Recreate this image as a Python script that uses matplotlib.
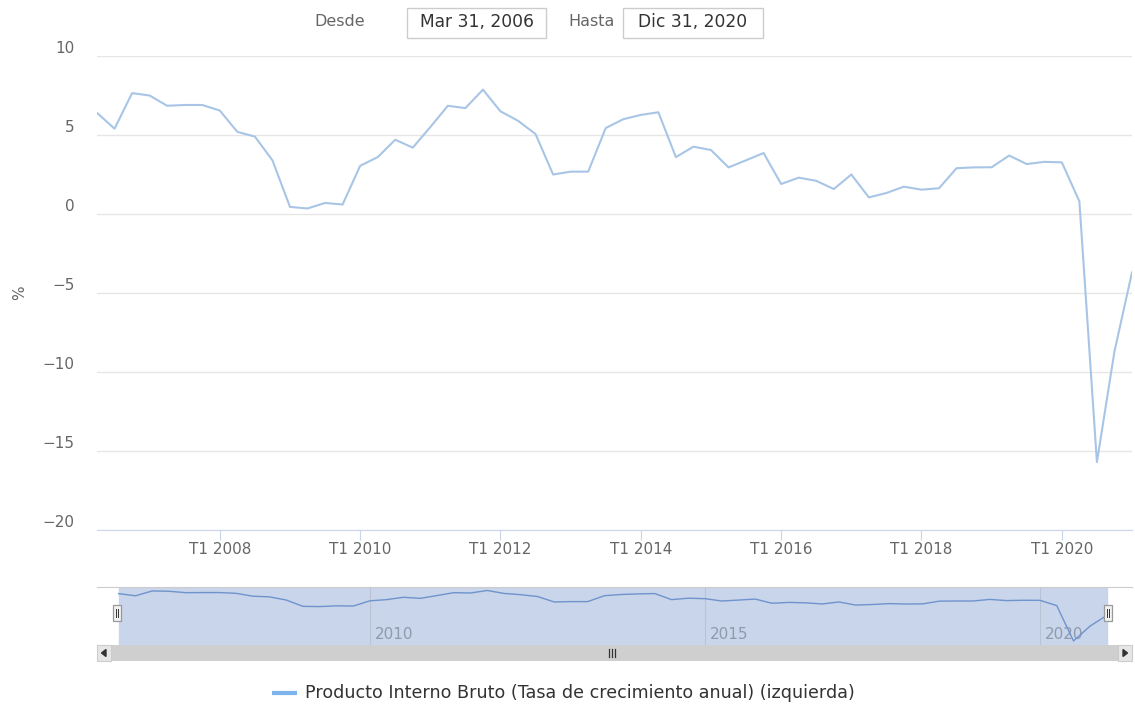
import matplotlib
matplotlib.use("Agg")
import matplotlib.pyplot as plt
from matplotlib.patches import Rectangle, Polygon
import numpy as np

# ---------------- data ----------------
start_year = 2006
gdp_growth = [6.4, 5.4, 7.65, 7.5, 6.85, 6.9, 6.9, 6.55, 5.2, 4.9,
              3.4, 0.45, 0.35, 0.7, 0.6, 3.05, 3.6, 4.7, 4.2, 5.5,
              6.85, 6.7, 7.87, 6.5, 5.9, 5.06, 2.5, 2.68, 2.68, 5.44,
              6.0, 6.27, 6.44, 3.6, 4.26, 4.05, 2.95, 3.4, 3.86, 1.9,
              2.3, 2.1, 1.58, 2.5, 1.05, 1.33, 1.73, 1.54, 1.63, 2.9,
              2.95, 2.96, 3.7, 3.16, 3.3, 3.27, 0.8, -15.7, -8.7, -3.7]
tick_years = [2008, 2010, 2012, 2014, 2016, 2018, 2020]
tick_labels = [f"T1 {y}" for y in tick_years]
y_ticks = [10, 5, 0, -5, -10, -15, -20]
nav_years = [2010, 2015, 2020]
series_name = "Producto Interno Bruto (Tasa de crecimiento anual) (izquierda)"
date_from = "Mar 31, 2006"
date_to = "Dic 31, 2020"

# quarter-end positions in decimal years
x = np.array([start_year + 0.25 * (i + 1) for i in range(len(gdp_growth))])

W, H = 1135, 704
fig = plt.figure(figsize=(W / 100, H / 100), dpi=100)
fig.patch.set_facecolor("white")


def px(x0, y0, x1, y1):
    return [x0 / W, 1 - y1 / H, (x1 - x0) / W, (y1 - y0) / H]


# ---------------- main chart ----------------
ax = fig.add_axes(px(97, 56, 1132, 530))
ax.plot(x, gdp_growth, color="#a9c5e6", lw=1.5, solid_joinstyle="round")
ax.set_xlim(x[0], x[-1])
ax.set_ylim(min(y_ticks), max(y_ticks))
ax.set_yticks(y_ticks)
ax.set_yticklabels([str(v).replace("-", "\u2212") for v in y_ticks])
ax.grid(axis="y", color="#e6e6e6", lw=1)
ax.set_axisbelow(True)
for s in ["top", "right", "left"]:
    ax.spines[s].set_visible(False)
ax.spines["bottom"].set_color("#ccd6eb")
ax.set_xticks(tick_years)
ax.set_xticklabels(tick_labels)
ax.tick_params(axis="x", length=7, color="#ccd6eb", labelcolor="#666666",
               labelsize=11, pad=2)
ax.tick_params(axis="y", length=0, pad=16, labelcolor="#666666", labelsize=11)
plt.setp(ax.get_yticklabels(), va="bottom")
fig.text(20 / W, 1 - 293 / H, "%", rotation=90, ha="center", va="center",
         color="#666666", fontsize=11)

# ---------------- navigator ----------------
nav = fig.add_axes(px(97, 587, 1132, 645))
pxy = (1107 - 118.75) / (x[-1] - x[0])
nav.set_xlim(x[0] - (118.75 - 97) / pxy, x[-1] + (1132 - 1107) / pxy)
nav.set_ylim(-17.6, 9.5)
nav.axvspan(x[0], x[-1], color="#c9d5eb", zorder=0)
for yv in nav_years:
    nav.axvline(yv, color="#b9c3d3", lw=0.8, zorder=1)
    nav.text(yv + 5 / pxy, -12.6, str(yv), color="#8f9aac", fontsize=11,
             ha="left", va="center", zorder=2)
nav.plot(x, gdp_growth, color="#6f93cc", lw=1.0, zorder=3)
nav.set_xticks([])
nav.set_yticks([])
for s in ["right", "left", "bottom"]:
    nav.spines[s].set_visible(False)
nav.spines["top"].set_color("#cccccc")

# ---------------- scrollbar ----------------
sb = fig.add_axes(px(97, 645, 1132, 661))
sb.set_xlim(0, 1)
sb.set_ylim(0, 1)
sb.set_facecolor("#cfcfcf")
sb.set_xticks([])
sb.set_yticks([])
for s in sb.spines.values():
    s.set_visible(False)

# ---------------- overlay decorations ----------------
ov = fig.add_axes([0, 0, 1, 1])
ov.set_xlim(0, W)
ov.set_ylim(H, 0)
ov.axis("off")

# scrollbar buttons / arrows / grip
ov.add_patch(Rectangle((97, 645), 14, 16, facecolor="#e6e6e6", edgecolor="#cccccc", lw=0.8))
ov.add_patch(Rectangle((1118, 645), 14, 16, facecolor="#e6e6e6", edgecolor="#cccccc", lw=0.8))
ov.add_patch(Polygon([[106, 649.5], [106, 656.5], [101.5, 653]], closed=True, color="#333333"))
ov.add_patch(Polygon([[1123, 649.5], [1123, 656.5], [1127.5, 653]], closed=True, color="#333333"))
for dx in (-3, 0, 3):
    ov.plot([612 + dx, 612 + dx], [649, 657], color="#333333", lw=0.9)

# navigator handles
for hx in (117, 1108):
    ov.add_patch(Rectangle((hx - 4, 605), 8, 16, facecolor="#f2f2f2",
                           edgecolor="#999999", lw=0.9))
    for dx in (-1.3, 1.3):
        ov.plot([hx + dx, hx + dx], [609, 617], color="#333333", lw=0.7)

# range selector inputs
ov.text(340, 22, "Desde", ha="center", va="center", color="#666666", fontsize=11.5)
ov.text(592, 22, "Hasta", ha="center", va="center", color="#666666", fontsize=11.5)
ov.add_patch(Rectangle((407, 8), 139, 30, facecolor="white", edgecolor="#cccccc", lw=1))
ov.add_patch(Rectangle((623, 8), 140, 30, facecolor="white", edgecolor="#cccccc", lw=1))
ov.text(476.5, 22, date_from, ha="center", va="center", color="#333333", fontsize=12.3)
ov.text(693, 22, date_to, ha="center", va="center", color="#333333", fontsize=12.3)

# legend
ov.plot([272, 297], [693, 693], color="#7cb5ec", lw=3, solid_capstyle="butt")
ov.text(305, 693, series_name, ha="left", va="center", color="#333333", fontsize=12.6)

fig.savefig("out.png", dpi=100, facecolor="white")
